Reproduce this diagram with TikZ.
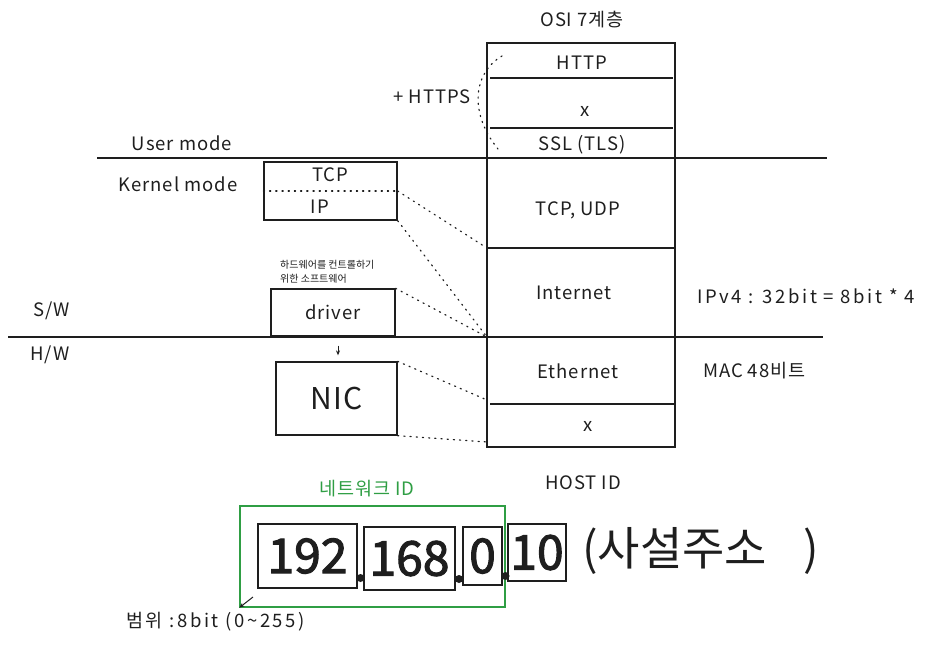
\documentclass[tikz,border=0pt]{standalone}
\usepackage{fontspec}
\setmainfont{Noto Sans CJK KR}
\newfontfamily\hand{Noto Sans CJK KR}[LetterSpace=5]
\newfontfamily\handwide{Noto Sans CJK KR}[LetterSpace=14]
\newfontfamily\numfont{Noto Sans CJK KR}[FakeBold=2.2]
\usetikzlibrary{arrows.meta}
\definecolor{ink}{HTML}{1E1E1E}
\definecolor{grn}{HTML}{2F9E44}
\begin{document}
\begin{tikzpicture}[x=1pt,y=-1pt,
  lbl/.style={font=\hand\fontsize{18.5}{22}\selectfont, text=ink, inner sep=0pt},
  wide/.style={font=\handwide\fontsize{18.5}{22}\selectfont, text=ink, inner sep=0pt},
  small/.style={font=\fontsize{10}{12}\selectfont, text=ink, inner sep=0pt, anchor=west},
  box/.style={draw=ink, line width=1.3pt, inner sep=0pt},
  num/.style={draw=ink, line width=1.1pt, inner sep=0pt, font=\numfont\fontsize{48}{52}\selectfont, text=ink},
  rule/.style={draw=ink, line width=1.4pt},
  dots/.style={draw=ink, line width=1.2pt, dash pattern=on 1.2pt off 5pt, line cap=round},
]
\useasboundingbox (0,0) rectangle (948,646);

% OSI stack
\node[lbl] (osititle) at (582,20) {OSI 7계층};
\node[box, minimum width=188pt, minimum height=404pt] (osi) at (581,245) {};
\draw[rule] (490,78) -- (673,78);
\draw[rule] (490,128) -- (673,128);
\draw[rule] (487,248) -- (675,248);
\draw[rule] (490,404) -- (675,404);
\node[lbl] (http) at (582,63) {HTTP};
\node[lbl] (x1) at (585,111) {x};
\node[lbl] (ssl) at (582,145) {SSL (TLS)};
\node[lbl] (tcpudp) at (578,210) {TCP, UDP};
\node[lbl] (inet) at (574,293) {Internet};
\node[lbl] (eth) at (578,371) {Ethernet};
\node[lbl] (x2) at (588,426) {x};

% mode lines
\draw[rule] (97,158) -- (827,158);
\draw[rule] (8,337) -- (823,337);
\node[lbl] (user) at (182,143) {User mode};
\node[lbl] (kernel) at (178,184) {Kernel mode};
\node[lbl] (sw) at (52,311) {S/W};
\node[lbl] (hw) at (50,355) {H/W};

% HTTPS
\node[lbl] (https) at (432,97) {+ HTTPS};
\coordinate (hs) at (502,56);
\coordinate (he) at (498,149);
\draw[dots] (hs) .. controls (474,72) and (468,112) .. (he);

% TCP/IP box
\node[box, minimum width=133pt, minimum height=58pt] (tcpip) at (330.5,191) {};
\draw[dots] (tcpip.west) -- (tcpip.east);
\node[lbl] (tcp) at (330,175) {TCP};
\node[lbl] (ip) at (320,207) {IP};

% driver
\node[small] (note1) at (280,265) {하드웨어를 컨트롤하기};
\node[small] (note2) at (280,279) {위한 소프트웨어};
\node[box, lbl, minimum width=124pt, minimum height=47pt] (driver) at (333,312.5) {driver};

% NIC
\node[box, minimum width=121pt, minimum height=73pt, font=\hand\fontsize{30}{34}\selectfont, text=ink] (nic) at (336.5,398.5) {NIC};
\draw[ink, line width=1pt, -{Stealth[length=5pt,width=4pt]}, shorten <=9pt, shorten >=6pt] ([xshift=5pt]driver.south) -- ([xshift=1.5pt]nic.north);

% dotted connectors
\coordinate (oInt) at (487,248);
\coordinate (oEth) at (487,337);
\coordinate (oX) at (487,400);
\coordinate (oBot) at (487,442);
\draw[dots] (tcpip.east) -- (oInt);
\draw[dots] (tcpip.south east) -- (oEth);
\draw[dots] (driver.north east) -- (oEth);
\draw[dots] (nic.north east) -- (oX);
\draw[dots] (nic.south east) -- (oBot);

% right notes
\node[wide, anchor=west] (ipv4) at (697,296) {IPv4 : 32bit = 8bit * 4};
\node[lbl, anchor=west] (mac) at (703,371) {MAC 48비트};

% IP address
\node[lbl] (host) at (583,483) {HOST ID};
\node[lbl, text=grn] (netid) at (367,489) {네트워크 ID};
\node[draw=grn, line width=1.3pt, minimum width=265pt, minimum height=101pt, inner sep=0pt] (netbox) at (372.5,556.5) {};
\node[num, minimum width=99pt, minimum height=64pt] (b192) at (307.5,556) {192};
\node[num, minimum width=91pt, minimum height=63pt] (b168) at (409.5,558.5) {168};
\node[num, minimum width=39pt, minimum height=58pt] (b0) at (482.5,556) {0};
\node[num, minimum width=58pt, minimum height=57pt] (b10) at (537,552.5) {10};
\fill[ink] (360.5,578) circle (4pt);
\fill[ink] (459,579) circle (4pt);
\fill[ink] (505.5,576) circle (4pt);
\node[text=ink, inner sep=0pt, anchor=west, font=\fontsize{46}{48}\selectfont] (priv) at (582,551) {(사설주소\hspace{36pt})};
\coordinate (arrs) at (253,597);
\draw[ink, line width=1pt, -{Stealth[length=5pt,width=4pt]}] (arrs) -- (netbox.south west);
\node[wide, anchor=west] (range) at (126,622) {범위 :8bit (0\textasciitilde255)};
\end{tikzpicture}
\end{document}
